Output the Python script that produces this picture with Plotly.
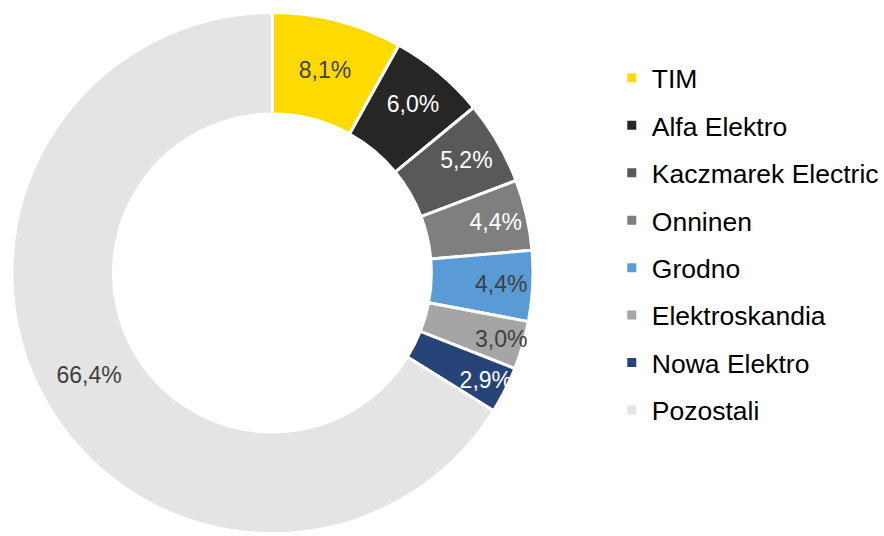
import plotly.graph_objects as go

categories = ["TIM", "Alfa Elektro", "Kaczmarek Electric", "Onninen", "Grodno",
              "Elektroskandia", "Nowa Elektro", "Pozostali"]
shares = [8.1, 6.0, 5.2, 4.4, 4.4, 3.0, 2.9, 66.4]
colors = ["#FFDA00", "#262626", "#595959", "#7F7F7F", "#5B9BD5",
          "#A5A5A5", "#264478", "#E4E4E4"]
text_colors = ["#404040", "#FFFFFF", "#FFFFFF", "#FFFFFF", "#404040",
               "#404040", "#FFFFFF", "#404040"]

labels_txt = [f"{v:.1f}".replace(".", ",") + "%" for v in shares]

fig = go.Figure()
fig.add_trace(go.Pie(
    labels=categories, values=shares, text=labels_txt, textinfo="text",
    sort=False, direction="clockwise", rotation=0, hole=0.61,
    marker=dict(colors=colors, line=dict(color="white", width=3)),
    textposition="inside", insidetextorientation="horizontal",
    textfont=dict(family="Liberation Sans, Arial", size=23, color=text_colors),
    showlegend=False, hoverinfo="label+text",
    domain=dict(x=[12/884, 536/884], y=[1/536, 525/536]),
))

for name, col in zip(categories, colors):
    fig.add_trace(go.Scatter(
        x=[None], y=[None], mode="markers", name=name, legendgroup=name,
        marker=dict(symbol="square", size=9, color=col),
    ))

fig.update_layout(
    width=884, height=536,
    margin=dict(l=0, r=0, t=0, b=0),
    paper_bgcolor="white", plot_bgcolor="white",
    uniformtext=dict(minsize=23, mode="show"),
    xaxis=dict(visible=False), yaxis=dict(visible=False),
    legend=dict(x=0.696, y=0.899, xanchor="left", yanchor="top",
                font=dict(family="Liberation Sans, Arial", size=26.5, color="#000000"),
                tracegroupgap=10, itemwidth=30, bgcolor="rgba(0,0,0,0)"),
)

fig.write_html("out.html", config={"displayModeBar": False},
               post_script="document.body.style.margin='0';")
